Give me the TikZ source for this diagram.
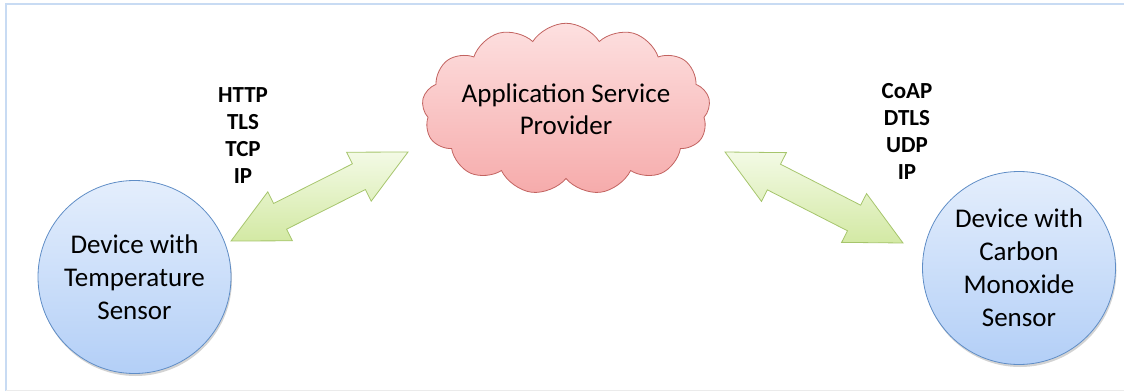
\documentclass[tikz,border=0pt]{standalone}
\usepackage{fontspec}
\setmainfont{Carlito}
\usepackage{tikz}
\usetikzlibrary{positioning,calc,shapes.symbols,shapes.arrows,shadows}
\definecolor{dBlueTop}{HTML}{E4EEFC}
\definecolor{dBlueBot}{HTML}{B3CFF7}
\definecolor{dBlueInk}{HTML}{5F8DC6}
\definecolor{cPinkTop}{HTML}{FDE0E0}
\definecolor{cPinkBot}{HTML}{F6ABAB}
\definecolor{cRedInk}{HTML}{C26360}
\definecolor{aGreenTop}{HTML}{F3FAE5}
\definecolor{aGreenBot}{HTML}{D3E9A4}
\definecolor{aGreenInk}{HTML}{A6C56C}
\definecolor{fFrame}{HTML}{C8DBF3}

\begin{document}
\begin{tikzpicture}[x=1pt, y=-1pt,
  device/.style={circle, draw=dBlueInk, thick, top color=dBlueTop, bottom color=dBlueBot,
    minimum size=193pt, inner sep=0pt, align=center, font=\fontsize{27}{33}\selectfont,
    drop shadow={opacity=0.35, shadow xshift=1pt, shadow yshift=-2.5pt}},
  provider/.style={cloud, cloud puffs=13, cloud puff arc=115, aspect=2, draw=cRedInk, thick,
    top color=cPinkTop, bottom color=cPinkBot, inner xsep=-6pt, inner ysep=-14pt,
    align=center, font=\fontsize{27}{32}\selectfont},
  stack/.style={align=center, font=\bfseries\fontsize{23}{27}\selectfont},
  link/.style={double arrow, draw=aGreenInk, thick, top color=aGreenTop, bottom color=aGreenBot,
    text height=0pt, text depth=0pt, inner xsep=0pt, inner ysep=14pt,
    double arrow head extend=13pt, double arrow tip angle=53}]
  \useasboundingbox (0,0) rectangle (1124,391);
  \draw[fFrame, line width=2pt] (6,391) -- (6,4) -- (1124,4);
  \draw[black!8, line width=1pt] (6,390) -- (1124,390);

  \node[device] (temp) at (134.5,277) {Device with\\Temperature\\Sensor};
  \node[device] (co) at (1019,268) {Device with\\Carbon\\Monoxide\\Sensor};
  \node[provider] (asp) at (566,109) {Application Service\\Provider};

  \node[stack] (lstack) at (243,136) {HTTP\\TLS\\TCP\\IP};
  \node[stack] (rstack) at (907,131) {CoAP\\DTLS\\UDP\\IP};

  \coordinate (l1) at (231,241);
  \coordinate (l2) at (408,152);
  \coordinate (r1) at (725,152);
  \coordinate (r2) at (903,243);
  \path let \p1 = ($(l2)-(l1)$) in
    node[link, minimum height={veclen(\x1,\y1)}, rotate={atan2(\y1,\x1)}] (lk) at ($(l1)!0.5!(l2)$) {};
  \path let \p1 = ($(r2)-(r1)$) in
    node[link, minimum height={veclen(\x1,\y1)}, rotate={atan2(\y1,\x1)}] (rk) at ($(r1)!0.5!(r2)$) {};
\end{tikzpicture}
\end{document}
